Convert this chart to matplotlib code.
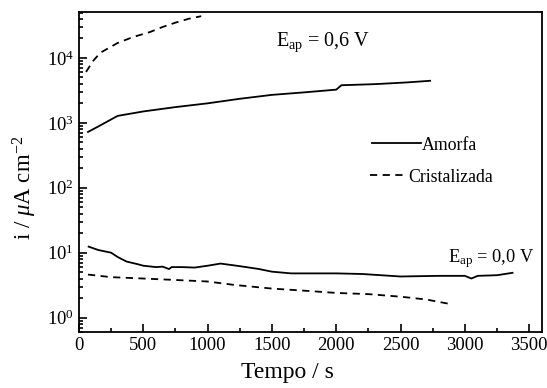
import matplotlib
matplotlib.use("Agg")
import matplotlib.pyplot as plt
from matplotlib.ticker import LogLocator, MultipleLocator, NullFormatter

plt.rcParams['font.family'] = ['Liberation Serif', 'DejaVu Serif']
plt.rcParams['mathtext.fontset'] = 'custom'
plt.rcParams['mathtext.rm'] = 'Liberation Serif'
plt.rcParams['mathtext.it'] = 'Liberation Serif:italic'

# Current density transients (uA cm^-2) vs time (s)
t_am_06 = [70, 150, 300, 500, 750, 1000, 1250, 1500, 1750, 2000, 2040, 2300, 2550, 2730]
i_am_06 = [725, 880, 1280, 1500, 1750, 2000, 2350, 2700, 2950, 3250, 3800, 3950, 4200, 4450]

t_cr_06 = [55, 110, 165, 300, 420, 550, 650, 750, 850, 950]
i_cr_06 = [6100, 9000, 12000, 17000, 21000, 25000, 30000, 35000, 40000, 44000]

t_am_00 = [75, 150, 250, 300, 370, 450, 500, 600, 650, 700, 720, 800, 900, 1000, 1100,
           1200, 1300, 1400, 1500, 1650, 2000, 2200, 2500, 2800, 3000, 3050, 3100,
           3250, 3370]
i_am_00 = [12.4, 11.0, 10.0, 8.6, 7.3, 6.7, 6.3, 6.0, 6.1, 5.6, 6.0, 6.0, 5.9, 6.3, 6.8,
           6.4, 6.0, 5.6, 5.1, 4.8, 4.8, 4.7, 4.3, 4.4, 4.4, 4.0, 4.4, 4.5, 4.9]

t_cr_00 = [70, 250, 500, 750, 1000, 1200, 1500, 1750, 2000, 2250, 2500, 2700, 2900]
i_cr_00 = [4.6, 4.2, 4.0, 3.8, 3.6, 3.2, 2.8, 2.6, 2.4, 2.3, 2.1, 1.9, 1.6]

fig = plt.figure(figsize=(5.47, 3.88), dpi=100)
ax = fig.add_axes([0.1444, 0.1443, 0.8466, 0.8247])

h_am, = ax.plot(t_am_06, i_am_06, color='black', lw=1.3, label='Amorfa')
h_cr, = ax.plot(t_cr_06, i_cr_06, color='black', lw=1.3, ls=(0, (4, 3)), label='Cristalizada')
ax.plot(t_am_00, i_am_00, color='black', lw=1.3)
ax.plot(t_cr_00, i_cr_00, color='black', lw=1.3, ls=(0, (4, 3)))

ax.set_yscale('log')
ax.set_xlim(0, 3600)
ax.set_ylim(0.6, 5.1e4)
ax.xaxis.set_major_locator(MultipleLocator(500))
ax.xaxis.set_minor_locator(MultipleLocator(250))
ax.yaxis.set_major_locator(LogLocator(base=10, numticks=10))
ax.yaxis.set_minor_locator(LogLocator(base=10, subs=range(2, 10), numticks=20))
ax.yaxis.set_minor_formatter(NullFormatter())

ax.tick_params(which='both', direction='in', labelsize=13.5, width=1.2)
ax.tick_params(which='major', length=6)
ax.tick_params(which='minor', length=3)
for sp in ax.spines.values():
    sp.set_linewidth(1.3)

ax.set_xlabel('Tempo / s', fontsize=17)
ax.set_ylabel(r'i / $\mathit{\mu}$A cm$^{-2}$', fontsize=16.5)
ax.xaxis.set_label_coords(0.45, -0.093)
ax.yaxis.set_label_coords(-0.087, 0.45)

ax.text(1530, 1.75e4, r'E$_{\mathrm{ap}}$ = 0,6 V', fontsize=14.5, ha='left', va='center')
ax.text(2865, 8.0, r'E$_{\mathrm{ap}}$ = 0,0 V', fontsize=13.2, ha='left', va='center')

# Two independent legend entries, each with its own key length
leg_kw = dict(loc='center left', frameon=False, fontsize=12.8, borderpad=0,
              borderaxespad=0)
leg1 = ax.legend([h_am], ['Amorfa'], bbox_to_anchor=(0.633, 0.584),
                 handlelength=2.75, handletextpad=0.05, **leg_kw)
ax.add_artist(leg1)
ax.legend([h_cr], ['Cristalizada'], bbox_to_anchor=(0.628, 0.484),
          handlelength=1.95, handletextpad=0.2, **leg_kw)

fig.savefig('out.png', dpi=100)
